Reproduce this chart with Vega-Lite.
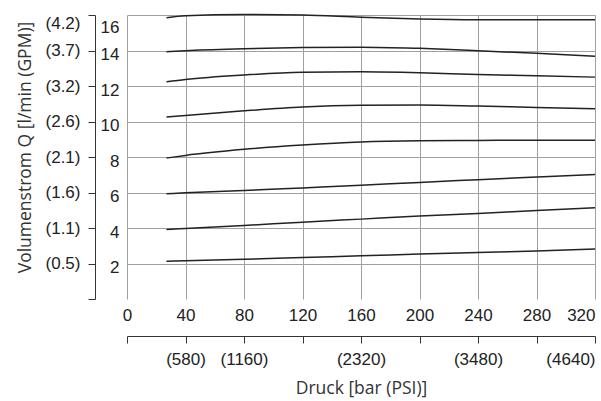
{
  "$schema": "https://vega.github.io/schema/vega-lite/v6.json",
  "width": 468,
  "height": 284,
  "autosize": "none",
  "padding": {"left": 127, "top": 15, "right": 6, "bottom": 102},
  "background": "white",
  "config": {
    "view": {"stroke": null},
    "axis": {
      "labelFont": "Liberation Sans",
      "labelFontSize": 17,
      "labelColor": "#222",
      "titleFont": "Open Sans",
      "titleFontSize": 17.5,
      "titleFontWeight": "normal",
      "titleColor": "#333",
      "gridColor": "#a0a0a0",
      "gridWidth": 1,
      "gridOpacity": 1,
      "labelOverlap": false,
      "labelFlush": false,
      "domainColor": "#333",
      "tickColor": "#333"
    }
  },
  "data": {
    "values": [
      {"curve": "c1", "bar": 27, "q": 15.85}, {"curve": "c1", "bar": 40, "q": 15.96}, {"curve": "c1", "bar": 80, "q": 16.03}, {"curve": "c1", "bar": 120, "q": 16.0}, {"curve": "c1", "bar": 160, "q": 15.87}, {"curve": "c1", "bar": 200, "q": 15.77}, {"curve": "c1", "bar": 240, "q": 15.73}, {"curve": "c1", "bar": 280, "q": 15.73}, {"curve": "c1", "bar": 320, "q": 15.73},
      {"curve": "c2", "bar": 27, "q": 13.93}, {"curve": "c2", "bar": 40, "q": 13.99}, {"curve": "c2", "bar": 80, "q": 14.10}, {"curve": "c2", "bar": 120, "q": 14.17}, {"curve": "c2", "bar": 160, "q": 14.19}, {"curve": "c2", "bar": 200, "q": 14.12}, {"curve": "c2", "bar": 240, "q": 13.99}, {"curve": "c2", "bar": 280, "q": 13.84}, {"curve": "c2", "bar": 320, "q": 13.67},
      {"curve": "c3", "bar": 27, "q": 12.24}, {"curve": "c3", "bar": 40, "q": 12.37}, {"curve": "c3", "bar": 80, "q": 12.62}, {"curve": "c3", "bar": 120, "q": 12.77}, {"curve": "c3", "bar": 160, "q": 12.80}, {"curve": "c3", "bar": 200, "q": 12.75}, {"curve": "c3", "bar": 240, "q": 12.65}, {"curve": "c3", "bar": 280, "q": 12.58}, {"curve": "c3", "bar": 320, "q": 12.50},
      {"curve": "c4", "bar": 27, "q": 10.25}, {"curve": "c4", "bar": 40, "q": 10.34}, {"curve": "c4", "bar": 80, "q": 10.60}, {"curve": "c4", "bar": 120, "q": 10.81}, {"curve": "c4", "bar": 160, "q": 10.91}, {"curve": "c4", "bar": 200, "q": 10.93}, {"curve": "c4", "bar": 240, "q": 10.87}, {"curve": "c4", "bar": 280, "q": 10.79}, {"curve": "c4", "bar": 320, "q": 10.72},
      {"curve": "c5", "bar": 27, "q": 7.94}, {"curve": "c5", "bar": 40, "q": 8.09}, {"curve": "c5", "bar": 80, "q": 8.43}, {"curve": "c5", "bar": 120, "q": 8.67}, {"curve": "c5", "bar": 160, "q": 8.84}, {"curve": "c5", "bar": 200, "q": 8.91}, {"curve": "c5", "bar": 240, "q": 8.93}, {"curve": "c5", "bar": 280, "q": 8.95}, {"curve": "c5", "bar": 320, "q": 8.95},
      {"curve": "c6", "bar": 27, "q": 5.93}, {"curve": "c6", "bar": 40, "q": 5.98}, {"curve": "c6", "bar": 80, "q": 6.11}, {"curve": "c6", "bar": 120, "q": 6.26}, {"curve": "c6", "bar": 160, "q": 6.41}, {"curve": "c6", "bar": 200, "q": 6.57}, {"curve": "c6", "bar": 240, "q": 6.72}, {"curve": "c6", "bar": 280, "q": 6.87}, {"curve": "c6", "bar": 320, "q": 7.02},
      {"curve": "c7", "bar": 27, "q": 3.92}, {"curve": "c7", "bar": 40, "q": 3.97}, {"curve": "c7", "bar": 80, "q": 4.14}, {"curve": "c7", "bar": 120, "q": 4.33}, {"curve": "c7", "bar": 160, "q": 4.50}, {"curve": "c7", "bar": 200, "q": 4.67}, {"curve": "c7", "bar": 240, "q": 4.82}, {"curve": "c7", "bar": 280, "q": 4.99}, {"curve": "c7", "bar": 320, "q": 5.14},
      {"curve": "c8", "bar": 27, "q": 2.13}, {"curve": "c8", "bar": 40, "q": 2.16}, {"curve": "c8", "bar": 80, "q": 2.24}, {"curve": "c8", "bar": 120, "q": 2.34}, {"curve": "c8", "bar": 160, "q": 2.43}, {"curve": "c8", "bar": 200, "q": 2.53}, {"curve": "c8", "bar": 240, "q": 2.62}, {"curve": "c8", "bar": 280, "q": 2.71}, {"curve": "c8", "bar": 320, "q": 2.81}
    ]
  },
  "layer": [
    {
      "mark": {"type": "line", "interpolate": "monotone", "color": "#222", "strokeWidth": 1.5},
      "encoding": {
        "x": {
          "field": "bar", "type": "quantitative",
          "scale": {"domain": [0, 320], "nice": false, "zero": false},
          "axis": {
            "values": [0, 40, 80, 120, 160, 200, 240, 280, 320],
            "grid": true, "domain": false, "ticks": false, "tickSize": 0,
            "labelPadding": 8,
            "labelAlign": {"condition": {"test": "datum.value == 320", "value": "right"}, "value": "center"},
            "title": null
          }
        },
        "y": {
          "field": "q", "type": "quantitative",
          "scale": {"domain": [0, 16], "nice": false},
          "axis": {
            "values": [2, 4, 6, 8, 10, 12, 14, 16],
            "grid": true, "domain": false, "ticks": false, "tickSize": 0,
            "labelPadding": 8,
            "labelOffset": 4,
            "labelBaseline": {"condition": {"test": "datum.value == 16", "value": "top"}, "value": "middle"},
            "title": null
          }
        },
        "detail": {"field": "curve"}
      }
    },
    {
      "mark": {"type": "point", "opacity": 0},
      "encoding": {
        "x": {
          "field": "bar", "type": "quantitative",
          "axis": {
            "orient": "bottom",
            "offset": 37,
            "values": [0, 40, 80, 120, 160, 200, 240, 280, 320],
            "grid": false, "domain": true, "ticks": true, "tickSize": 7,
            "labelPadding": 8,
            "labelExpr": "datum.value == 40 ? '(580)' : datum.value == 80 ? '(1160)' : datum.value == 160 ? '(2320)' : datum.value == 240 ? '(3480)' : datum.value == 320 ? '(4640)' : ''",
            "labelAlign": {"condition": {"test": "datum.value == 320", "value": "right"}, "value": "center"},
            "title": "Druck [bar (PSI)]",
            "titlePadding": 12
          }
        },
        "y": {
          "field": "q", "type": "quantitative",
          "axis": {
            "orient": "left",
            "offset": 32,
            "values": [0, 2, 4, 6, 8, 10, 12, 14, 16],
            "grid": false, "domain": true, "ticks": true, "tickSize": 7,
            "labelPadding": 8,
            "labelExpr": "datum.value == 2 ? '(0.5)' : datum.value == 4 ? '(1.1)' : datum.value == 6 ? '(1.6)' : datum.value == 8 ? '(2.1)' : datum.value == 10 ? '(2.6)' : datum.value == 12 ? '(3.2)' : datum.value == 14 ? '(3.7)' : datum.value == 16 ? '(4.2)' : ''",
            "labelBaseline": {"condition": {"test": "datum.value == 16", "value": "top"}, "value": "middle"},
            "title": "Volumenstrom Q [l/min (GPM)]",
            "titleY": 132,
            "titlePadding": 11
          }
        }
      }
    }
  ],
  "resolve": {"axis": {"x": "independent", "y": "independent"}}
}
